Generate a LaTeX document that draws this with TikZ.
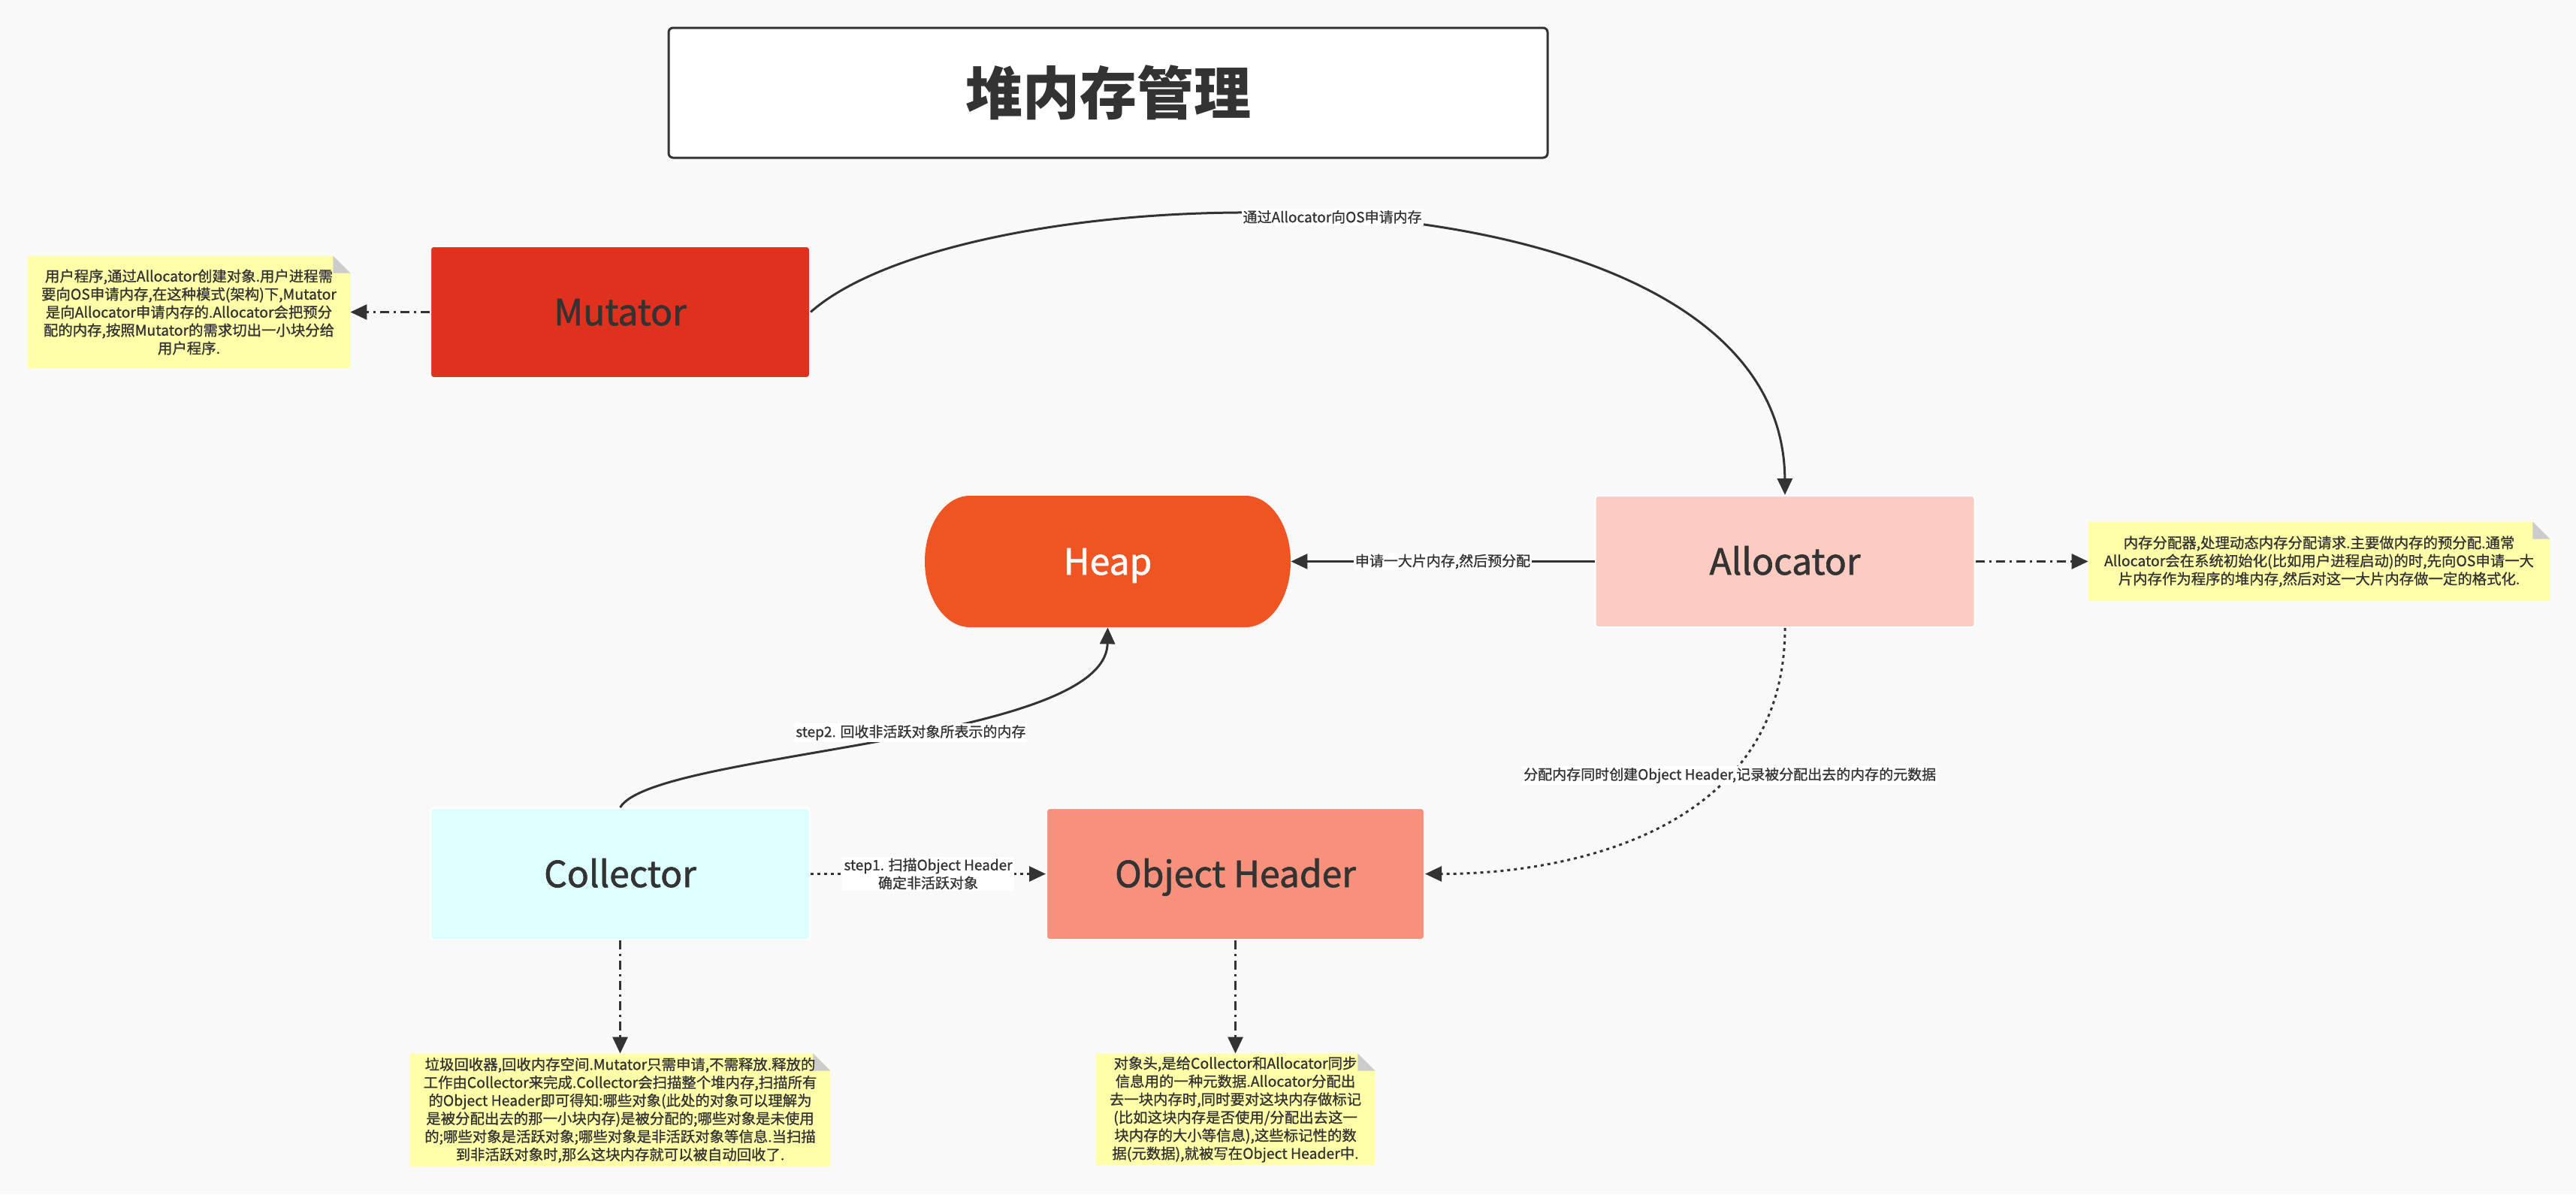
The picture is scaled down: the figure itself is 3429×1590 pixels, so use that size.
\documentclass[tikz,border=0pt]{standalone}
\usepackage{fontspec}
\setmainfont{Noto Sans CJK SC}
\newfontfamily\semib{Noto Sans CJK SC}[FakeBold=1.4]
\newfontfamily\semia{Noto Sans CJK SC}[FakeBold=1.0]
\usetikzlibrary{arrows.meta,backgrounds}
\definecolor{bgc}{RGB}{249,249,249}
\definecolor{txt}{RGB}{51,51,51}
\definecolor{mutc}{RGB}{224,48,30}
\definecolor{heapc}{RGB}{239,84,35}
\definecolor{allc}{RGB}{252,203,193}
\definecolor{colc}{RGB}{221,255,255}
\definecolor{ohc}{RGB}{248,145,124}
\definecolor{notec}{RGB}{255,255,170}
\definecolor{foldc}{RGB}{204,204,204}
\newcommand\drawnote[1]{%
  \begin{scope}[on background layer]
    \fill[notec] (#1.north west) -- ([xshift=-11.5pt]#1.north east) -- ([yshift=-11.5pt]#1.north east) -- (#1.south east) -- (#1.south west) -- cycle;
    \fill[foldc] ([xshift=-11.5pt]#1.north east) -- ([xshift=-11.5pt,yshift=-11.5pt]#1.north east) -- ([yshift=-11.5pt]#1.north east) -- cycle;
  \end{scope}}
\begin{document}
\begin{tikzpicture}[x=0.5pt,y=0.5pt,
  box/.style={rectangle, rounded corners=2pt, draw=white, line width=1pt, minimum width=252.5pt, minimum height=87.5pt, inner sep=0pt, text height=17.6pt, text depth=0pt, text=txt, font=\semib\fontsize{24}{28}\selectfont},
  titlebox/.style={rectangle, draw=txt, fill=white, line width=1.5pt, rounded corners=3pt, minimum width=585pt, minimum height=86.5pt, text=txt, font=\fontsize{38}{44}\selectfont\bfseries},
  note/.style={rectangle, inner sep=0pt, align=center, text=txt, font=\semia\fontsize{9.7}{12}\selectfont},
  lbl/.style={fill=white, inner sep=1pt, align=center, text=txt, font=\semia\fontsize{9.5}{12}\selectfont},
  conn/.style={draw=txt, line width=1.5pt, -{Triangle[length=11pt,width=10pt]}},
  dotline/.style={dash pattern=on 2pt off 2.5pt},
  dashdot/.style={dash pattern=on 6pt off 3pt on 1.5pt off 3pt}]
\begin{scope}[on background layer]
  \fill[bgc] (0,0) rectangle (3429,-1590);
\end{scope}
\useasboundingbox (0,0) rectangle (3429,-1590);

\node[titlebox] (title) at (1475,-123.5) {堆内存管理};

\node[box, fill=mutc] (mut) at (825.5,-415.5) {Mutator};
\node[box, fill=allc] (alloc) at (2376,-747.5) {Allocator};
\node[box, fill=colc] (coll) at (825.5,-1163.5) {Collector};
\node[box, fill=ohc, minimum width=251.5pt] (oh) at (1644.5,-1163.5) {Object Header};

\fill[heapc] (1658,-660) arc[start angle=90, end angle=-90, x radius=30pt, y radius=43.75pt]
  -- (1291,-835) arc[start angle=270, end angle=90, x radius=30pt, y radius=43.75pt] -- cycle;
\node[rectangle, inner sep=0pt, minimum width=243.5pt, minimum height=87.5pt, text height=17.6pt, text depth=0pt, text=white, font=\semib\fontsize{24}{28}\selectfont] (heap) at (1474.5,-747.5) {Heap};

\node[note, minimum width=214.5pt, minimum height=74.5pt] (mutnote) at (251.5,-415.5)
 {用户程序,通过Allocator创建对象.用户进程需\\要向OS申请内存,在这种模式(架构)下,Mutator\\是向Allocator申请内存的.Allocator会把预分\\配的内存,按照Mutator的需求切出一小块分给\\用户程序.};
\node[note, minimum width=307pt, minimum height=52.5pt] (allocnote) at (3087,-747.5)
 {内存分配器,处理动态内存分配请求.主要做内存的预分配.通常\\Allocator会在系统初始化(比如用户进程启动)的时,先向OS申请一大\\片内存作为程序的堆内存,然后对这一大片内存做一定的格式化.};
\node[note, minimum width=279.5pt, minimum height=75pt] (collnote) at (825.5,-1478)
 {垃圾回收器,回收内存空间.Mutator只需申请,不需释放.释放的\\工作由Collector来完成.Collector会扫描整个堆内存,扫描所有\\的Object Header即可得知:哪些对象(此处的对象可以理解为\\是被分配出去的那一小块内存)是被分配的;哪些对象是未使用\\的;哪些对象是活跃对象;哪些对象是非活跃对象等信息.当扫描\\到非活跃对象时,那么这块内存就可以被自动回收了.};
\node[note, minimum width=185.5pt, minimum height=74pt] (ohnote) at (1644.5,-1477)
 {对象头,是给Collector和Allocator同步\\信息用的一种元数据.Allocator分配出\\去一块内存时,同时要对这块内存做标记\\(比如这块内存是否使用/分配出去这一\\块内存的大小等信息),这些标记性的数\\据(元数据),就被写在Object Header中.};
\drawnote{mutnote}
\drawnote{allocnote}
\drawnote{collnote}
\drawnote{ohnote}

\draw[conn] (mut.east) .. controls (1300,-220) and (2373,-200) .. (alloc.north)
  node[lbl, pos=0.48] (l1) {通过Allocator向OS申请内存};
\draw[conn] (alloc.west) -- (heap.east)
  node[lbl, midway] (l2) {申请一大片内存,然后预分配};
\draw[conn, dotline] (alloc.south) .. controls (2376,-1100) and (2100,-1163.5) .. (oh.east)
  node[lbl, pos=0.32] (l3) {分配内存同时创建Object Header,记录被分配出去的内存的元数据};
\draw[conn, dotline] (coll.east) -- (oh.west)
  node[lbl, midway] (l4) {step1. 扫描Object Header\\确定非活跃对象};
\draw[conn] (coll.north) .. controls (870,-1000) and (1472,-990) .. (heap.south)
  node[lbl, pos=0.55] (l5) {step2. 回收非活跃对象所表示的内存};

\draw[conn, dashdot] (mut.west) -- (mutnote.east);
\draw[conn, dashdot] (alloc.east) -- (allocnote.west);
\draw[conn, dashdot] (coll.south) -- (collnote.north);
\draw[conn, dashdot] (oh.south) -- (ohnote.north);
\end{tikzpicture}
\end{document}
